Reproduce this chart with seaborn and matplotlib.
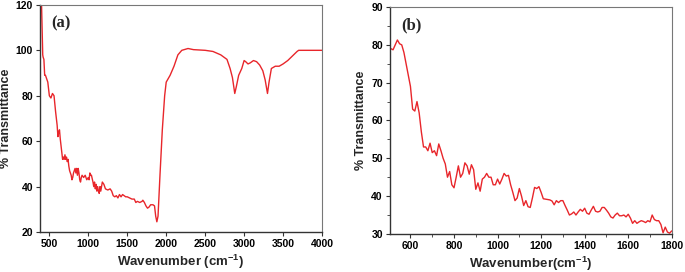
import numpy as np
import pandas as pd
import seaborn as sns
import matplotlib.pyplot as plt
from matplotlib.ticker import MultipleLocator

# ---------------------------------------------
# Spectrum (a): full FTIR range
# ---------------------------------------------
wn_a = [400, 405, 410, 415, 420, 430, 440, 450, 460, 480, 500, 520, 540, 560, 580,
        600, 610, 620, 630, 640, 660, 670, 680, 690, 700, 710, 720, 730, 740, 750,
        760, 780, 790, 800, 810, 820, 830, 840, 850, 860, 870, 880, 890, 900, 910,
        920, 940, 960, 980, 1000, 1010, 1020, 1030, 1040, 1060, 1070, 1080, 1090,
        1100, 1110, 1120, 1130, 1140, 1150, 1160, 1180, 1200, 1220, 1250, 1280,
        1300, 1320, 1340, 1360, 1380, 1400, 1420, 1440, 1460, 1480, 1500, 1530,
        1560, 1590, 1610, 1630, 1660, 1690, 1700, 1720, 1740, 1760, 1780, 1800,
        1830, 1850, 1865, 1880, 1895, 1920, 1950, 1980, 2000, 2050, 2100, 2150,
        2200, 2280, 2350, 2500, 2600, 2700, 2780, 2820, 2850, 2880, 2900, 2930,
        2970, 3000, 3020, 3050, 3080, 3120, 3160, 3200, 3240, 3270, 3300, 3320,
        3350, 3400, 3450, 3500, 3560, 3620, 3680, 3700, 3800, 4000]
t_a = [120, 112, 104, 98, 97, 96, 89, 89, 88, 86, 80, 79, 81, 80, 73,
       67, 62, 64, 65, 61, 55, 52, 53, 52, 54, 52, 53, 51, 52, 49,
       47, 45, 43, 44, 46, 47, 48, 46, 48, 45, 48, 46, 43, 42, 44,
       45, 44, 45, 43, 44, 43, 46, 45, 45, 42, 40, 42, 39, 41, 38,
       40, 38, 37, 40, 38, 42, 41, 39, 38.5, 39, 38, 36, 35.5, 36,
       35, 36.5, 35.5, 36.5, 36, 35.5, 35.5, 35, 34.5, 34.5, 33, 33.5,
       33, 33.5, 34, 33, 31.5, 30.5, 31, 32, 32, 31.5, 27, 24.5, 27,
       45, 65, 80, 86, 89, 93, 98, 100, 100.8, 100.3, 100, 99.5, 98,
       96, 92, 88, 81, 84, 89, 92, 95.5, 95, 94, 94.5, 95.5, 95, 93.5,
       91, 87, 81, 86, 92, 93, 93, 94, 95.5, 97.5, 99.5, 100, 100, 100]

# ---------------------------------------------
# Spectrum (b): zoom on 500-1800 cm-1
# ---------------------------------------------
wn_b = [510, 520, 530, 540, 550, 560, 570, 580, 590, 600, 610, 620, 630, 640,
        650, 660, 670, 680, 690, 700, 710, 720, 730, 740, 750, 760, 770, 780,
        790, 800, 810, 820, 830, 840, 850, 860, 870, 880, 890, 900, 910, 920,
        930, 940, 950, 960, 970, 980, 990, 1000, 1010, 1020, 1030, 1040, 1050,
        1060, 1070, 1080, 1090, 1100, 1110, 1120, 1130, 1140, 1150, 1160, 1170,
        1180, 1190, 1200, 1210, 1240, 1250, 1260, 1270, 1280, 1290, 1300, 1310,
        1320, 1330, 1340, 1350, 1360, 1370, 1380, 1390, 1400, 1410, 1420, 1430,
        1440, 1450, 1460, 1470, 1480, 1490, 1500, 1510, 1520, 1530, 1540, 1550,
        1560, 1570, 1580, 1590, 1600, 1610, 1620, 1630, 1640, 1650, 1660, 1670,
        1680, 1690, 1700, 1710, 1720, 1730, 1740, 1750, 1760, 1770, 1780, 1790,
        1800]
t_b = [79, 78.7, 80, 81.3, 80.3, 80, 78, 75, 72, 69, 63, 62.5, 65, 62,
       57, 53, 53, 52, 54, 51.5, 52, 50.7, 53.8, 52, 50, 48.5, 45, 46.5,
       43, 42.2, 45, 48, 45, 46, 48.8, 48, 45.8, 48.3, 47, 41.8, 43.5, 41.3,
       44.5, 45, 46, 45, 45, 43, 43, 44.5, 43.2, 44.5, 46, 45.3, 45.5,
       43, 41, 38.8, 39.5, 42, 40, 37.5, 38.8, 37.2, 37, 39.5, 42.3,
       42, 42.5, 41, 39.3, 39, 38.7, 37.7, 38.8, 38.3, 38.8, 38.8, 37.5,
       36.3, 35, 35.3, 35.8, 35, 35.8, 36.5, 36, 36.8, 35.5, 35.2, 36.3,
       37.3, 36, 35.8, 36, 37, 37, 36.3, 35.5, 34.5, 34.2, 35, 35.5,
       34.8, 34.8, 35, 34.5, 35.2, 34.2, 32.8, 33.5, 32.8, 33.2, 33.5, 33.3,
       33, 33.5, 33.2, 35, 33.8, 33.5, 33.5, 32.5, 30.3, 31.8, 30.5, 30.2,
       30.8]

df_a = pd.DataFrame({'wn': wn_a, 't': t_a})
df_b = pd.DataFrame({'wn': wn_b, 't': t_b})

sns.set_style('ticks')
plt.rcParams['font.family'] = ['Liberation Sans', 'DejaVu Sans']
plt.rcParams['mathtext.fontset'] = 'custom'
plt.rcParams['mathtext.rm'] = 'Liberation Sans'
plt.rcParams['mathtext.bf'] = 'Liberation Sans:bold'
plt.rcParams['xtick.major.size'] = 3
plt.rcParams['ytick.major.size'] = 3
plt.rcParams['xtick.minor.size'] = 2
plt.rcParams['ytick.minor.size'] = 2

red = '#e8262b'
fig = plt.figure(figsize=(6.85, 2.72), dpi=100)
ax_a = fig.add_axes([0.0584, 0.147, 0.4117, 0.835])
ax_b = fig.add_axes([0.569, 0.140, 0.4117, 0.834])

sns.lineplot(data=df_a, x='wn', y='t', ax=ax_a, color=red, lw=1.0, sort=False)
sns.lineplot(data=df_b, x='wn', y='t', ax=ax_b, color=red, lw=1.0, sort=False)

# ---------------------------------------------
# Axes styling
# ---------------------------------------------
ax_a.set_xlim(380, 4000)
ax_a.set_ylim(20, 120)
ax_a.set_xticks([500, 1000, 1500, 2000, 2500, 3000, 3500, 4000])
ax_a.set_yticks([20, 40, 60, 80, 100, 120])

ax_b.set_xlim(505, 1800)
ax_b.set_ylim(30, 90)
ax_b.set_xticks([600, 800, 1000, 1200, 1400, 1600, 1800])
ax_b.set_yticks([30, 40, 50, 60, 70, 80, 90])
ax_b.xaxis.set_minor_locator(MultipleLocator(100))
ax_b.yaxis.set_minor_locator(MultipleLocator(5))

for ax, lab, xl in [(ax_a, '(a)', r'Wavenumber (cm$\mathbf{^{-1}}$)'),
                    (ax_b, '(b)', r'Wavenumber(cm$\mathbf{^{-1}}$)')]:
    for s in ['left', 'bottom']:
        ax.spines[s].set_color('#333333')
        ax.spines[s].set_linewidth(1.0)
    for s in ['top', 'right']:
        ax.spines[s].set_visible(True)
        ax.spines[s].set_color('#777777')
        ax.spines[s].set_linewidth(0.8)
    ax.tick_params(which='both', direction='out', colors='#333333',
                   labelsize=7.5, labelcolor='black', pad=2)
    for t in ax.get_xticklabels() + ax.get_yticklabels():
        t.set_fontweight('bold')
    ax.set_xlabel(xl, fontsize=9.5, fontweight='bold', labelpad=3)
    ax.set_ylabel('% Transmittance', fontsize=9, fontweight='bold', labelpad=3)
    ax.text(0.04, 0.955, lab, transform=ax.transAxes, ha='left', va='top',
            fontsize=12, fontweight='bold', family=['Liberation Serif', 'DejaVu Serif'])

fig.savefig('out.png', dpi=100)
